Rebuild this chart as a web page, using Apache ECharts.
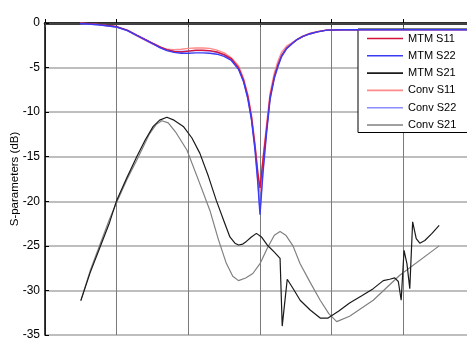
<!DOCTYPE html>
<html><head><meta charset="utf-8">
<script src="https://cdn.jsdelivr.net/npm/echarts@6/dist/echarts.min.js"></script>
<style>html,body{margin:0;padding:0;background:#fff}#c{width:467px;height:339px}</style>
</head><body><div id="c"></div>
<script>
// Frequency axis (arbitrary units, 6 grid intervals; labels are cropped in the reference)
const xTicks = [0, 1, 2, 3, 4, 5, 6];
const yTicks = [0, -5, -10, -15, -20, -25, -30, -35];

// Reflection curves share one x-grid
const xRefl = [0.49,0.75,1.0,1.15,1.28,1.4,1.51,1.6,1.7,1.8,1.9,2.0,2.1,2.2,2.3,2.4,2.5,2.6,2.7,2.77,2.83,2.88,2.93,2.97,3.0,3.04,3.09,3.14,3.2,3.25,3.3,3.37,3.45,3.51,3.6,3.7,3.8,3.93,4.16,4.5,5.0,5.5,6.0];
const mtmS11 = [0,-0.15,-0.4,-0.8,-1.35,-1.85,-2.3,-2.65,-3.0,-3.2,-3.25,-3.15,-3.05,-3.05,-3.1,-3.25,-3.55,-4.0,-5.0,-6.4,-8.2,-10.5,-13.8,-16.8,-18.5,-15.5,-12.0,-8.3,-6.0,-4.7,-3.7,-2.85,-2.3,-1.9,-1.5,-1.2,-1.0,-0.8,-0.75,-0.75,-0.75,-0.75,-0.75];
const mtmS22 = [-0.05,-0.2,-0.45,-0.85,-1.4,-1.9,-2.35,-2.75,-3.1,-3.3,-3.4,-3.4,-3.35,-3.35,-3.4,-3.5,-3.75,-4.2,-5.2,-6.6,-8.5,-10.8,-14.2,-18.0,-21.5,-17.0,-12.5,-8.6,-6.2,-4.9,-3.8,-2.9,-2.3,-1.9,-1.5,-1.2,-1.0,-0.8,-0.75,-0.75,-0.75,-0.75,-0.75];
const convS11 = [0,-0.2,-0.45,-0.85,-1.45,-1.95,-2.4,-2.7,-2.95,-3.0,-2.95,-2.85,-2.8,-2.8,-2.85,-3.05,-3.35,-3.9,-4.8,-6.2,-8.0,-10.2,-13.5,-16.8,-19.0,-15.2,-11.5,-7.9,-5.6,-4.3,-3.3,-2.6,-2.2,-1.85,-1.45,-1.15,-0.95,-0.8,-0.75,-0.75,-0.75,-0.75,-0.75];
const convS22 = [-0.05,-0.2,-0.45,-0.85,-1.4,-1.9,-2.35,-2.7,-3.0,-3.15,-3.2,-3.15,-3.1,-3.1,-3.15,-3.3,-3.6,-4.1,-5.1,-6.5,-8.4,-10.7,-14.0,-17.6,-21.0,-16.6,-12.2,-8.4,-6.0,-4.7,-3.6,-2.8,-2.25,-1.9,-1.5,-1.2,-1.0,-0.8,-0.75,-0.75,-0.75,-0.75,-0.75];

// Transmission curves
const xMtmS21 = [0.50,0.63,0.77,0.9,1.0,1.14,1.28,1.4,1.51,1.6,1.7,1.8,1.93,2.05,2.16,2.28,2.39,2.5,2.58,2.65,2.70,2.76,2.81,2.88,2.95,3.02,3.1,3.2,3.28,3.31,3.38,3.47,3.56,3.7,3.84,3.95,4.1,4.25,4.42,4.58,4.72,4.81,4.88,4.93,4.97,5.01,5.05,5.09,5.13,5.18,5.23,5.3,5.4,5.50];
const mtmS21 = [-31.15,-28.0,-25.1,-22.4,-19.9,-17.4,-15.0,-13.1,-11.6,-10.9,-10.58,-10.9,-11.6,-12.9,-14.6,-17.2,-19.9,-22.3,-24.0,-24.7,-24.9,-24.8,-24.5,-24.0,-23.6,-24.0,-24.9,-25.7,-26.4,-34.0,-28.75,-29.9,-31.1,-32.2,-33.1,-33.1,-32.3,-31.4,-30.6,-29.8,-28.9,-28.75,-28.6,-29.0,-31.1,-25.5,-27.0,-29.8,-22.3,-24.2,-24.7,-24.4,-23.6,-22.7];
const xConvS21 = [0.50,0.63,0.77,0.9,0.99,1.14,1.28,1.46,1.55,1.63,1.72,1.82,1.98,2.14,2.30,2.42,2.53,2.62,2.70,2.80,2.90,3.0,3.1,3.2,3.28,3.36,3.46,3.56,3.70,3.84,3.96,4.07,4.25,4.58,4.95,5.50];
const convS21 = [-31.15,-27.8,-24.8,-22.0,-20.3,-17.6,-15.4,-12.4,-11.4,-10.96,-11.2,-12.2,-14.25,-17.6,-21.0,-24.3,-26.96,-28.4,-28.9,-28.6,-28.1,-27.0,-25.3,-23.8,-23.4,-23.8,-25.0,-27.0,-29.1,-31.1,-32.6,-33.5,-32.9,-31.1,-28.3,-25.0];

const names = ['MTM S11','MTM S22','MTM S21','Conv S11','Conv S22','Conv S21'];
const colors = ['#d4143c','#3b3bf5','#1a1a1a','#ff8a8a','#8c8cff','#808080'];

const pairs = (xs, ys) => xs.map((x, i) => [x, ys[i]]);
const seriesData = [
  pairs(xRefl, mtmS11), pairs(xRefl, mtmS22), pairs(xMtmS21, mtmS21),
  pairs(xRefl, convS11), pairs(xRefl, convS22), pairs(xConvS21, convS21)
];
const widths = [1.4,1.4,1.2,1.4,1.4,1.2];
const z = [4,4,3,2,2,2];

const chart = echarts.init(document.getElementById('c'), null, {renderer:'canvas'});
chart.setOption({
  animation: false,
  backgroundColor: '#fff',
  textStyle: {fontFamily: 'Liberation Sans, Arial, sans-serif'},
  grid: {left: 45, top: 23, width: 430, height: 312, containLabel: false, outerBoundsMode: 'none'},
  legend: {
    data: names, orient: 'vertical', left: 358, top: 29,
    icon: 'rect', itemWidth: 36, itemHeight: 1.6, itemGap: 6.3,
    padding: [4, 12, 2, 9], backgroundColor: '#fff', borderColor: '#000', borderWidth: 1,
    borderRadius: 0, selectedMode: false,
    textStyle: {fontSize: 11, color: '#000', fontFamily: 'Liberation Sans, Arial, sans-serif'}
  },
  xAxis: [{
    type: 'value', min: xTicks[0], max: xTicks[xTicks.length-1], interval: 1,
    axisLine: {show: true, lineStyle: {color: '#000', width: 2.5}},
    axisTick: {show: true, inside: true, length: 4, lineStyle: {color: '#000'}},
    axisLabel: {show: false},
    splitLine: {show: true, lineStyle: {color: '#7a7a7a', width: 1}}
  }, {
    type: 'value', position: 'top', min: xTicks[0], max: xTicks[xTicks.length-1], interval: 1,
    axisLine: {show: true, lineStyle: {color: '#444', width: 1}},
    axisTick: {show: true, inside: true, length: 4, lineStyle: {color: '#444'}},
    axisLabel: {show: false}, splitLine: {show: false}
  }],
  yAxis: [{
    type: 'value', min: yTicks[yTicks.length-1], max: yTicks[0], interval: 5,
    name: 'S-parameters (dB)', nameLocation: 'middle', nameGap: 24, nameRotate: 90,
    nameMoveOverlap: false,
    nameTextStyle: {fontSize: 11.5, color: '#000'},
    axisLine: {show: true, lineStyle: {color: '#000', width: 1.5}},
    axisTick: {show: true, inside: true, length: 4, lineStyle: {color: '#000'}},
    axisLabel: {fontSize: 12, color: '#000', margin: 5},
    splitLine: {show: true, lineStyle: {color: '#a8a8a8', width: 1.5}}
  }],
  series: names.map((n, i) => ({
    name: n, type: 'line', data: seriesData[i], showSymbol: false, symbol: 'none',
    smooth: false, z: z[i], clip: true,
    lineStyle: {color: colors[i], width: widths[i]}, itemStyle: {color: colors[i]}
  }))
});
</script></body></html>
